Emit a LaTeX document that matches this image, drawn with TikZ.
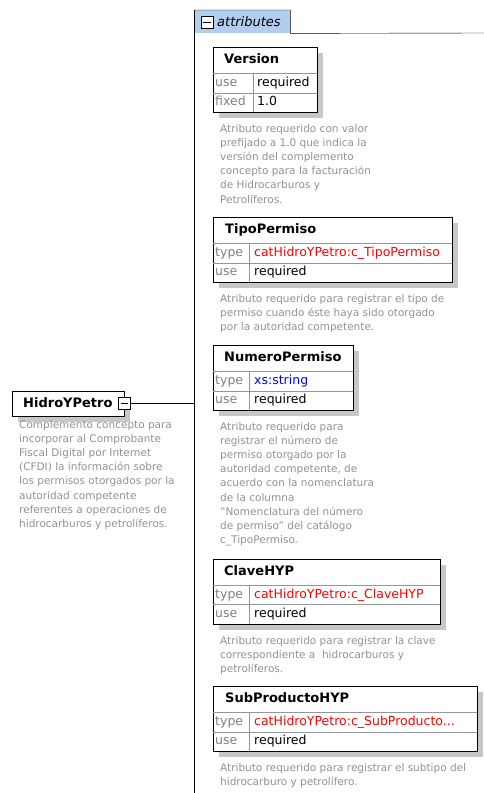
\documentclass[tikz,border=0pt]{standalone}
\usepackage{fontspec}
\setmainfont{DejaVu Sans}
\usetikzlibrary{shadows}
\definecolor{tabblue}{RGB}{178,205,238}
\definecolor{descgray}{RGB}{145,145,145}
\definecolor{labelgray}{RGB}{128,128,128}
\definecolor{typered}{RGB}{255,0,0}
\definecolor{typeblue}{RGB}{0,0,255}
\definecolor{rulegray}{RGB}{150,150,150}
\begin{document}
\begin{tikzpicture}[x=1pt,y=-1pt]
            \tikzset{
            xs box/.style={draw,line width=1.3pt,fill=white,anchor=north west,inner sep=0,
              drop shadow={shadow xshift=5pt,shadow yshift=-5pt,fill=black!22,opacity=1}},
            xs name/.style={anchor=west,inner sep=0,text height=10,text depth=3,font=\bfseries\fontsize{13}{15}\selectfont},
            xs label/.style={anchor=west,inner sep=0,text height=9,text depth=2.5,text=labelgray,font=\fontsize{12.5}{15}\selectfont},
            xs value/.style={anchor=west,inner sep=0,text height=9,text depth=2.5,font=\fontsize{12.5}{15}\selectfont},
            xs desc/.style={anchor=north west,inner sep=0,align=left,text=descgray,font=\fontsize{10.5}{14.2}\selectfont},
            xs rule/.style={draw=rulegray,line width=0.8pt},
            xs minus/.style={draw,fill=white,line width=0.9pt,minimum size=12,inner sep=0}
            }
            \useasboundingbox (0,0) rectangle (484,793);

            % attributes group
            \node[fill=tabblue,anchor=north west,minimum width=96,minimum height=23,inner sep=0] (tab) at (194,10) {};
            \node[xs minus] (tab-minus) at (207,22) {};
            \draw[line width=0.9pt] ([xshift=2.5pt]tab-minus.west) -- ([xshift=-2.5pt]tab-minus.east);
            \node[anchor=west,inner sep=0,font=\itshape\fontsize{13}{15}\selectfont] (tab-text) at (217,21.5) {attributes};
            \coordinate (group-end) at (484,33);
            \coordinate (group-foot) at (194,793);
            \coordinate (group-join) at (194,403.5);
            \draw (tab.north west) -- (tab.north east) -- (tab.south east) -- (group-end);
            \draw (tab.north west) -- (group-foot);

            % element
            \node[xs box,minimum width=112,minimum height=25] (hidro) at (12,391) {};
            \node[xs name] (hidro-name) at (23,403.5) {HidroYPetro};
            \node[xs minus] (hidro-minus) at (124.5,403.5) {};
            \draw ([xshift=2.5pt]hidro-minus.west) -- ([xshift=-2.5pt]hidro-minus.east);
            \draw (hidro-minus) -- (group-join);
            \node[xs desc] (hidro-desc) at (19,420) {Complemento concepto para\\incorporar al Comprobante\\Fiscal Digital por Internet\\(CFDI) la información sobre\\los permisos otorgados por la\\autoridad competente\\referentes a operaciones de\\hidrocarburos y petrolíferos.};

            % Version
            \node[xs box,minimum width=104,minimum height=65] (ver) at (213,47) {};
            \draw[xs rule] (213,73) -- (317,73) (213,93) -- (317,93) (253,73) -- (253,112);
            \node[xs name] (ver-name) at (224,60) {Version};
            \node[xs label] (ver-use) at (215,83) {use};
            \node[xs value] (ver-usev) at (257,83) {required};
            \node[xs label] (ver-fixed) at (215,102.5) {fixed};
            \node[xs value] (ver-fixedv) at (257,102.5) {1.0};
            \node[xs desc] (ver-desc) at (220,124) {Atributo requerido con valor\\prefijado a 1.0 que indica la\\versión del complemento\\concepto para la facturación\\de Hidrocarburos y\\Petrolíferos.};

            % TipoPermiso
            \node[xs box,minimum width=239,minimum height=65] (tipo) at (213,217) {};
            \draw[xs rule] (213,243) -- (452,243) (213,263) -- (452,263) (249,243) -- (249,282);
            \node[xs name] (tipo-name) at (225,230) {TipoPermiso};
            \node[xs label] (tipo-type) at (215,253) {type};
            \node[xs value,text=typered] (tipo-typev) at (254,253) {catHidroYPetro:c\_TipoPermiso};
            \node[xs label] (tipo-use) at (215,272.5) {use};
            \node[xs value] (tipo-usev) at (254,272.5) {required};
            \node[xs desc] (tipo-desc) at (220,294) {Atributo requerido para registrar el tipo de\\permiso cuando éste haya sido otorgado\\por la autoridad competente.};

            % NumeroPermiso
            \node[xs box,minimum width=140,minimum height=65] (num) at (213,345) {};
            \draw[xs rule] (213,371) -- (353,371) (213,391) -- (353,391) (249,371) -- (249,410);
            \node[xs name] (num-name) at (224,358) {NumeroPermiso};
            \node[xs label] (num-type) at (215,381) {type};
            \node[xs value,text=typeblue] (num-typev) at (254,381) {xs:string};
            \node[xs label] (num-use) at (215,400.5) {use};
            \node[xs value] (num-usev) at (254,400.5) {required};
            \node[xs desc] (num-desc) at (220,422) {Atributo requerido para\\registrar el número de\\permiso otorgado por la\\autoridad competente, de\\acuerdo con la nomenclatura\\de la columna\\"Nomenclatura del número\\de permiso" del catálogo\\c\_TipoPermiso.};

            % ClaveHYP
            \node[xs box,minimum width=227,minimum height=65] (clave) at (213,559) {};
            \draw[xs rule] (213,585) -- (440,585) (213,604.5) -- (440,604.5) (249,585) -- (249,624);
            \node[xs name] (clave-name) at (224,572) {ClaveHYP};
            \node[xs label] (clave-type) at (215,595) {type};
            \node[xs value,text=typered] (clave-typev) at (254,595) {catHidroYPetro:c\_ClaveHYP};
            \node[xs label] (clave-use) at (215,614) {use};
            \node[xs value] (clave-usev) at (254,614) {required};
            \node[xs desc] (clave-desc) at (220,636) {Atributo requerido para registrar la clave\\correspondiente a \ hidrocarburos y\\petrolíferos.};

            % SubProductoHYP
            \node[xs box,minimum width=264,minimum height=65] (sub) at (213,686) {};
            \draw[xs rule] (213,712) -- (477,712) (213,732) -- (477,732) (249,712) -- (249,751);
            \node[xs name] (sub-name) at (225,699) {SubProductoHYP};
            \node[xs label] (sub-type) at (215,722) {type};
            \node[xs value,text=typered] (sub-typev) at (254,722) {catHidroYPetro:c\_SubProducto...};
            \node[xs label] (sub-use) at (215,741.5) {use};
            \node[xs value] (sub-usev) at (254,741.5) {required};
            \node[xs desc] (sub-desc) at (220,763) {Atributo requerido para registrar el subtipo del\\hidrocarburo y petrolífero.};
        \end{tikzpicture}
\end{document}
